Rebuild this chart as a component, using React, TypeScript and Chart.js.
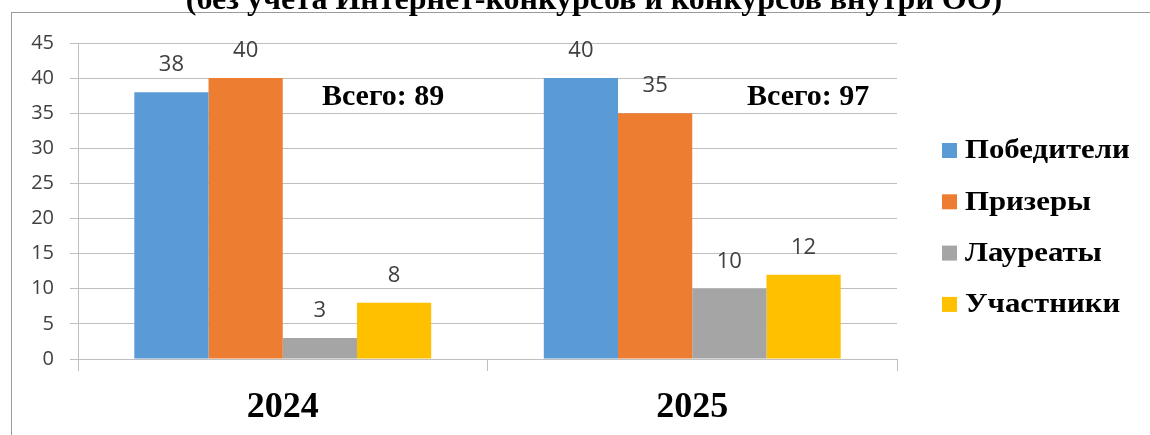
import { useEffect, useRef } from "react";
import { Chart, registerables } from "chart.js";

Chart.register(...registerables);

const titleText = "(без учета Интернет-конкурсов и конкурсов внутри ОО)";
const categories = ["2024", "2025"];
const seriesNames = ["Победители", "Призеры", "Лауреаты", "Участники"];
const winners = [38, 40];
const prizeWinners = [40, 35];
const laureates = [3, 10];
const participants = [8, 12];
const totalLabels = ["Всего: 89", "Всего: 97"];
const seriesColors = ["#5B9BD5", "#ED7D31", "#A5A5A5", "#FFC000"];
const yMin = 0;
const yMax = 45;
const yStep = 5;

const SERIF = "'Liberation Serif', 'Times New Roman', serif";
const SANS = "'Open Sans', 'DejaVu Sans', sans-serif";
const GRID = "#BFBFBF";

const decorPlugin = {
  id: "decor",
  beforeDraw(chart: any) {
    const ctx = chart.ctx;
    ctx.save();
    ctx.fillStyle = "#ffffff";
    ctx.fillRect(0, 0, chart.width, chart.height);
    ctx.strokeStyle = "#9A9A9A";
    ctx.lineWidth = 1;
    ctx.strokeRect(11.5, 12.5, chart.width + 20, chart.height + 20);
    ctx.fillStyle = "#000000";
    ctx.font = `bold 32px ${SERIF}`;
    ctx.textAlign = "center";
    ctx.textBaseline = "alphabetic";
    ctx.fillText(titleText, 594, 9);
    ctx.restore();
  },
  afterDatasetsDraw(chart: any) {
    const ctx = chart.ctx;
    ctx.save();
    // value labels
    ctx.font = `22px ${SANS}`;
    ctx.fillStyle = "#404040";
    ctx.textAlign = "center";
    ctx.textBaseline = "middle";
    chart.data.datasets.forEach((ds: any, di: number) => {
      const meta = chart.getDatasetMeta(di);
      meta.data.forEach((bar: any, i: number) => {
        ctx.fillText(String(ds.data[i]), bar.x, bar.y - 27);
      });
    });
    // totals
    const xs = chart.scales.x;
    const ys = chart.scales.y;
    const catW = (xs.right - xs.left) / categories.length;
    const offs = [0.245, 0.283];
    ctx.font = `bold 30px ${SERIF}`;
    ctx.fillStyle = "#000000";
    totalLabels.forEach((t, i) => {
      ctx.fillText(t, xs.getPixelForValue(i) + offs[i] * catW, ys.getPixelForValue(37.3));
    });
    // legend
    ctx.textAlign = "left";
    ctx.font = `bold 28px ${SERIF}`;
    chart.data.datasets.forEach((ds: any, di: number) => {
      const cy = 150 + di * 51.3;
      ctx.fillStyle = ds.backgroundColor;
      ctx.fillRect(942, cy - 7, 15, 15);
      ctx.fillStyle = "#000000";
      ctx.save();
      ctx.translate(965, cy + 1);
      ctx.scale(1.1, 1);
      ctx.fillText(ds.label, 0, 0);
      ctx.restore();
    });
    ctx.restore();
  },
};

export default function App() {
  const ref = useRef<HTMLCanvasElement | null>(null);
  useEffect(() => {
    if (!ref.current) return;
    const values = [winners, prizeWinners, laureates, participants];
    const chart = new Chart(ref.current, {
      type: "bar",
      data: {
        labels: categories,
        datasets: seriesNames.map((name, i) => ({
          label: name,
          data: values[i],
          backgroundColor: seriesColors[i],
          borderWidth: 0,
          barPercentage: 1,
          categoryPercentage: 0.725,
        })),
      },
      options: {
        animation: false,
        responsive: false,
        devicePixelRatio: 1,
        layout: { padding: { left: 12, top: 43, right: 253, bottom: 16 } },
        plugins: {
          legend: { display: false },
          tooltip: { enabled: false },
          title: { display: false },
        },
        scales: {
          x: {
            grid: {
              display: true,
              drawOnChartArea: false,
              offset: true,
              tickLength: 12,
              color: GRID,
            },
            border: { display: true, color: GRID },
            ticks: {
              color: "#000000",
              padding: 15,
              font: { family: SERIF, size: 36, weight: "bold" },
            },
            afterFit: (s: any) => {
              s.height = 60;
            },
          },
          y: {
            min: yMin,
            max: yMax,
            ticks: {
              stepSize: yStep,
              color: "#404040",
              padding: 16,
              font: { family: SANS, size: 20 },
            },
            grid: { color: GRID, tickLength: 8 },
            border: { display: true, color: GRID },
            afterFit: (s: any) => {
              s.width = 66;
            },
          },
        },
      },
      plugins: [decorPlugin],
    } as any);
    return () => chart.destroy();
  }, []);
  return (
    <div style={{ position: "fixed", left: 0, top: 0, width: 1150, height: 435 }}>
      <canvas ref={ref} width={1150} height={435} style={{ width: 1150, height: 435 }} />
    </div>
  );
}
